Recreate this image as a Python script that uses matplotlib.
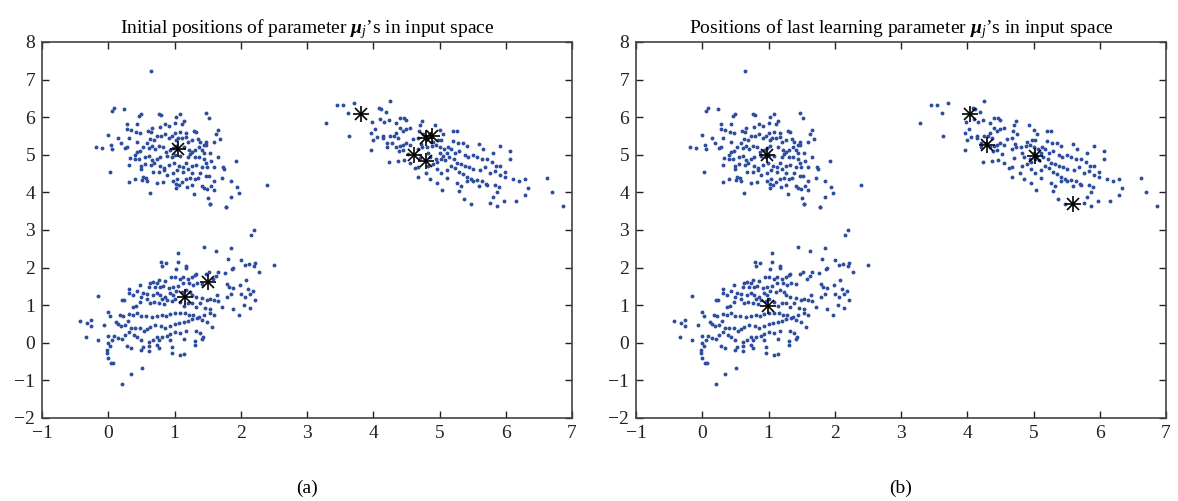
import numpy as np
import matplotlib.pyplot as plt

# input samples (same in both panels)
cluster_upper_left = np.array([
    (0.65, 7.24), (0.05, 6.16), (0.08, 6.24), (0.24, 6.22), (0.46, 6.03), (0.50, 6.08),
    (0.77, 6.09), (0.79, 6.07), (1.02, 6.01), (1.09, 6.09), (1.47, 6.12), (1.52, 5.97),
    (1.14, 5.89), (1.12, 5.81), (1.00, 5.84), (0.28, 5.81), (0.44, 5.83), (0.29, 5.68),
    (0.35, 5.66), (0.42, 5.61), (0.48, 5.57), (0.60, 5.64), (0.64, 5.61), (0.66, 5.72),
    (0.78, 5.73), (0.86, 5.81), (0.91, 5.76), (1.01, 5.59), (1.08, 5.61), (1.17, 5.57),
    (1.18, 5.48), (1.30, 5.63), (1.33, 5.61), (1.65, 5.66), (1.63, 5.56), (1.69, 5.43),
    (1.60, 5.33), (1.47, 5.35), (1.48, 5.25), (0.00, 5.52), (0.14, 5.45), (0.19, 5.31),
    (0.04, 5.25), (0.06, 5.16), (-0.09, 5.17), (-0.19, 5.20), (0.28, 5.22), (0.26, 5.17),
    (0.31, 5.46), (0.43, 5.35), (0.44, 5.08), (0.41, 4.99), (0.48, 5.11), (0.59, 5.32),
    (0.63, 5.43), (0.69, 5.39), (0.73, 5.51), (0.79, 5.50), (0.86, 5.55), (0.91, 5.46),
    (0.96, 5.50), (1.02, 5.39), (1.06, 5.46), (1.11, 5.46), (1.20, 5.35), (1.26, 5.39),
    (1.35, 5.43), (1.38, 5.34), (1.44, 5.26), (0.53, 5.20), (0.61, 5.18), (0.66, 5.23),
    (0.71, 5.16), (0.76, 5.23), (0.83, 5.20), (0.87, 5.08), (0.93, 5.13), (0.98, 5.17),
    (1.03, 5.23), (1.15, 5.20), (1.22, 5.13), (1.27, 5.08), (1.31, 5.14), (1.37, 5.20),
    (1.42, 5.13), (1.45, 5.06), (1.54, 5.04), (1.65, 4.95), (0.33, 4.91), (0.41, 4.88),
    (0.46, 4.88), (0.55, 4.95), (0.62, 4.97), (0.66, 4.86), (0.73, 4.88), (0.78, 4.95),
    (0.88, 4.97), (0.96, 4.95), (1.01, 4.99), (1.08, 4.98), (1.21, 4.95), (1.24, 5.02),
    (1.31, 4.95), (1.37, 4.93), (1.45, 4.88), (1.48, 4.77), (1.55, 4.84), (0.31, 4.72),
    (0.49, 4.70), (0.50, 4.63), (0.56, 4.75), (0.64, 4.73), (0.69, 4.77), (0.78, 4.70),
    (0.84, 4.64), (0.92, 4.73), (0.99, 4.77), (1.07, 4.70), (1.13, 4.68), (1.18, 4.77),
    (1.27, 4.70), (1.33, 4.73), (1.42, 4.67), (1.49, 4.68), (1.60, 4.67), (1.73, 4.67),
    (1.75, 4.61), (1.93, 4.83), (0.02, 4.55), (0.68, 4.53), (0.77, 4.55), (0.84, 4.60),
    (0.88, 4.46), (0.97, 4.52), (1.04, 4.60), (1.13, 4.55), (1.21, 4.61), (1.27, 4.51),
    (1.38, 4.52), (1.47, 4.44), (1.52, 4.44), (1.71, 4.37), (0.53, 4.42), (0.57, 4.37),
    (0.59, 4.31), (0.41, 4.35), (0.32, 4.28), (0.51, 4.33), (0.74, 4.26), (0.83, 4.28),
    (0.97, 4.31), (1.04, 4.35), (1.11, 4.28), (1.18, 4.36), (1.24, 4.39), (1.31, 4.35),
    (1.36, 4.37), (1.60, 4.29), (1.85, 4.29), (1.02, 4.22), (1.07, 4.20), (1.19, 4.15),
    (1.27, 4.21), (1.41, 4.17), (1.44, 4.11), (1.49, 4.08), (1.55, 4.17), (1.60, 4.06),
    (1.94, 4.15), (1.97, 3.98), (2.39, 4.21), (0.63, 3.99), (1.02, 4.11), (1.30, 3.95),
    (1.50, 3.84), (1.53, 3.69), (1.85, 3.89), (1.78, 3.60),
])

cluster_upper_right = np.array([
    (3.29, 5.84), (3.46, 6.32), (3.55, 6.32), (3.71, 6.39), (3.62, 6.12), (3.63, 5.51),
    (4.25, 6.44), (4.09, 6.25), (4.11, 6.23), (4.19, 6.14), (4.10, 5.95), (4.24, 5.93),
    (3.98, 5.88), (4.16, 5.86), (4.35, 5.84), (4.41, 5.97), (4.46, 5.99), (4.50, 5.93),
    (3.97, 5.57), (4.03, 5.68), (4.06, 5.48), (4.15, 5.50), (3.99, 5.39), (4.14, 5.45),
    (4.25, 5.50), (4.31, 5.51), (4.38, 5.46), (4.34, 5.57), (4.45, 5.64), (4.49, 5.69),
    (4.55, 5.70), (4.40, 5.70), (4.21, 5.32), (4.28, 5.32), (4.20, 5.20), (4.35, 5.20),
    (4.40, 5.23), (4.45, 5.25), (4.50, 5.31), (4.56, 5.27), (4.60, 5.41), (4.68, 5.46),
    (4.71, 5.78), (4.73, 5.91), (4.69, 5.63), (4.93, 5.79), (5.01, 5.66), (5.06, 5.55),
    (5.20, 5.62), (5.26, 5.64), (4.98, 5.39), (5.03, 5.39), (5.21, 5.36), (5.28, 5.32),
    (5.36, 5.31), (5.41, 5.23), (5.59, 5.29), (5.66, 5.15), (5.80, 5.06), (5.92, 5.23),
    (6.06, 5.11), (3.97, 5.13), (4.39, 5.11), (4.45, 5.13), (4.53, 5.02), (4.68, 5.15),
    (4.74, 5.20), (4.81, 5.20), (4.88, 5.23), (4.95, 5.26), (5.01, 5.22), (5.07, 5.15),
    (5.13, 5.20), (5.18, 5.15), (5.23, 5.06), (5.30, 5.11), (5.38, 4.99), (5.43, 4.95),
    (5.51, 4.99), (5.56, 4.95), (5.64, 4.88), (5.71, 4.88), (5.79, 4.82), (5.85, 4.70),
    (5.92, 4.70), (5.99, 4.55), (6.07, 4.90), (4.24, 4.81), (4.38, 4.84), (4.46, 4.86),
    (4.55, 4.79), (4.63, 4.64), (4.68, 4.67), (4.83, 4.70), (4.90, 4.75), (4.96, 4.82),
    (5.02, 4.88), (5.08, 4.86), (5.15, 4.93), (5.22, 4.88), (5.27, 4.79), (5.33, 4.76),
    (5.38, 4.70), (5.45, 4.67), (5.50, 4.61), (5.61, 4.60), (5.69, 4.67), (5.76, 4.52),
    (5.84, 4.58), (5.91, 4.46), (5.99, 4.42), (6.11, 4.35), (6.20, 4.30), (6.29, 4.35),
    (4.67, 4.41), (4.79, 4.52), (4.86, 4.36), (4.96, 4.61), (5.03, 4.52), (5.11, 4.60),
    (5.17, 4.70), (5.23, 4.64), (5.30, 4.55), (5.35, 4.49), (5.42, 4.42), (5.47, 4.36),
    (5.56, 4.33), (5.64, 4.29), (5.71, 4.20), (5.84, 4.20), (5.90, 4.14), (4.96, 4.24),
    (5.04, 4.06), (5.12, 4.37), (5.26, 4.24), (5.33, 4.17), (5.41, 4.31), (5.51, 4.29),
    (5.60, 4.17), (5.70, 4.22), (5.87, 4.00), (5.80, 3.89), (5.76, 3.71), (5.87, 3.64),
    (5.98, 3.78), (6.16, 3.76), (6.29, 3.94), (6.33, 4.13), (6.62, 4.39), (6.70, 4.01),
    (6.87, 3.65), (5.37, 3.82), (5.47, 3.69), (5.29, 4.05), (4.72, 5.30), (4.82, 5.05),
    (4.70, 4.92), (4.85, 4.95), (4.75, 5.55), (4.90, 5.35), (5.00, 5.05), (4.95, 4.90),
    (5.05, 4.98), (5.12, 5.05),
])

cluster_lower_left = np.array([
    (1.54, 3.69), (1.78, 3.60), (2.20, 3.00), (2.15, 2.87), (1.45, 2.56), (1.62, 2.44),
    (1.86, 2.51), (1.06, 2.38), (0.80, 2.16), (0.87, 2.13), (1.06, 2.16), (1.17, 2.05),
    (1.18, 2.00), (1.03, 1.95), (0.81, 2.04), (1.80, 2.23), (2.00, 2.19), (2.06, 2.08),
    (2.12, 2.09), (2.21, 2.13), (2.20, 2.04), (2.50, 2.07), (2.27, 1.89), (1.89, 1.98),
    (1.87, 1.95), (1.76, 1.86), (1.65, 1.87), (1.47, 1.83), (1.52, 1.89), (1.58, 1.71),
    (1.63, 1.78), (1.33, 1.83), (1.31, 1.80), (1.26, 1.76), (1.21, 1.71), (1.13, 1.74),
    (1.08, 1.71), (1.01, 1.74), (0.95, 1.74), (0.86, 1.65), (0.77, 1.67), (0.73, 1.60),
    (0.68, 1.63), (0.63, 1.58), (0.48, 1.55), (0.62, 1.49), (0.71, 1.48), (0.78, 1.48),
    (0.83, 1.51), (0.91, 1.45), (0.98, 1.48), (1.06, 1.51), (1.13, 1.58), (1.22, 1.60),
    (1.28, 1.54), (1.34, 1.58), (1.41, 1.56), (1.79, 1.56), (1.83, 1.48), (1.89, 1.45),
    (1.99, 1.54), (2.08, 1.67), (2.11, 1.42), (2.18, 1.39), (2.14, 1.29), (2.06, 1.23),
    (2.01, 1.30), (1.86, 1.30), (1.79, 1.23), (1.64, 1.27), (1.66, 1.12), (1.59, 1.14),
    (1.53, 1.16), (1.49, 1.14), (1.41, 1.18), (1.33, 1.21), (1.27, 1.27), (1.24, 1.36),
    (1.18, 1.40), (1.11, 1.36), (1.03, 1.39), (0.98, 1.27), (0.93, 1.32), (0.86, 1.23),
    (0.78, 1.27), (0.73, 1.33), (0.68, 1.27), (0.59, 1.29), (0.53, 1.32), (0.49, 1.23),
    (0.44, 1.38), (0.38, 1.27), (0.32, 1.42), (0.32, 1.33), (0.24, 1.14), (0.20, 1.14),
    (0.37, 0.96), (0.42, 0.98), (0.48, 1.09), (0.58, 1.16), (0.63, 1.05), (0.69, 1.09),
    (0.76, 1.05), (0.81, 1.16), (0.84, 1.03), (0.89, 1.14), (0.96, 1.12), (1.01, 1.16),
    (1.08, 1.09), (1.14, 0.98), (1.21, 1.05), (1.27, 1.07), (1.33, 0.96), (1.38, 1.05),
    (1.46, 0.92), (1.54, 0.89), (1.71, 0.96), (1.89, 0.90), (2.05, 1.00), (2.14, 0.92),
    (2.22, 1.14), (1.97, 0.73), (1.59, 0.73), (1.53, 0.78), (1.45, 0.74), (1.37, 0.68),
    (1.28, 0.74), (1.22, 0.74), (1.16, 0.78), (1.08, 0.80), (1.01, 0.80), (0.93, 0.77),
    (0.87, 0.71), (0.81, 0.74), (0.73, 0.71), (0.66, 0.68), (0.57, 0.70), (0.50, 0.71),
    (0.44, 0.80), (0.38, 0.74), (0.32, 0.77), (0.23, 0.70), (0.18, 0.74), (0.12, 0.54),
    (0.15, 0.50), (0.19, 0.45), (0.30, 0.59), (0.25, 0.47), (0.34, 0.39), (0.40, 0.39),
    (0.48, 0.39), (0.54, 0.32), (0.59, 0.36), (0.63, 0.43), (0.71, 0.47), (0.79, 0.45),
    (0.86, 0.39), (0.93, 0.45), (1.01, 0.50), (1.07, 0.52), (1.14, 0.56), (1.21, 0.59),
    (1.27, 0.62), (1.34, 0.65), (1.41, 0.61), (1.49, 0.54), (1.57, 0.41), (1.33, 0.32),
    (1.38, 0.27), (1.17, 0.32), (1.14, 0.09), (1.08, 0.25), (1.01, 0.30), (0.93, 0.23),
    (0.88, 0.18), (0.81, 0.16), (0.73, 0.15), (0.67, 0.07), (0.77, 0.07), (0.61, 0.03),
    (0.50, 0.07), (0.44, 0.16), (0.39, 0.21), (0.32, 0.30), (0.25, 0.21), (0.20, 0.09),
    (0.15, 0.12), (0.08, 0.18), (-0.01, 0.18), (-0.07, 0.47), (-0.15, 0.07), (-0.26, 0.44),
    (-0.26, 0.60), (-0.32, 0.52), (-0.43, 0.58), (-0.34, 0.16), (-0.01, 0.83), (0.03, 0.70),
    (-0.15, 1.25), (0.05, 0.07), (0.00, 0.00), (0.02, -0.09), (-0.02, -0.19), (-0.02, -0.26),
    (0.00, -0.40), (0.04, -0.55), (0.07, -0.53), (0.28, -0.09), (0.35, -0.15), (0.52, -0.10),
    (0.50, -0.19), (0.61, -0.08), (0.62, -0.21), (0.73, -0.06), (0.77, -0.15), (0.96, -0.10),
    (0.93, 0.07), (0.96, -0.28), (1.09, -0.32), (1.14, -0.30), (1.31, -0.06), (1.31, 0.06),
    (1.42, 0.09), (1.43, 0.15), (0.51, -0.68), (0.34, -0.84), (0.20, -1.09),
])

# parameter mu_j positions
mu_initial = np.array([
    (1.06, 5.15), (3.82, 6.08), (4.79, 5.44), (4.89, 5.50), (4.62, 4.99), (4.79, 4.84),
    (1.16, 1.23), (1.50, 1.63),
])
mu_learned = np.array([
    (0.98, 4.99), (4.04, 6.09), (4.30, 5.27), (5.03, 4.96), (5.60, 3.68), (0.99, 0.97),
])

titles = [r"Initial positions of parameter $\mathbf{\mu}_j$’s in input space",
          r"Positions of last learning parameter $\mathbf{\mu}_j$’s in input space"]
captions = ["(a)", "(b)"]

plt.rcParams["font.family"] = ["Liberation Serif", "DejaVu Serif"]
plt.rcParams["mathtext.fontset"] = "custom"
plt.rcParams["mathtext.rm"] = "Liberation Serif"
plt.rcParams["mathtext.it"] = "Liberation Serif:italic"
plt.rcParams["mathtext.bf"] = "Liberation Serif:bold:italic"

samples = np.vstack([cluster_upper_left, cluster_upper_right, cluster_lower_left])

fig = plt.figure(figsize=(11.78, 5.01), dpi=100)
lefts = [42 / 1178, 636 / 1178]
for i, (mu, title, cap) in enumerate(zip([mu_initial, mu_learned], titles, captions)):
    ax = fig.add_axes([lefts[i], 83 / 501, 530 / 1178, 376 / 501])
    ax.plot(samples[:, 0], samples[:, 1], ".", color="#2f4f9e", ms=3.6, zorder=2)
    ax.plot(mu[:, 0], mu[:, 1], "+", color="black", ms=11.5, mew=1.2, zorder=3)
    ax.plot(mu[:, 0], mu[:, 1], "x", color="black", ms=8, mew=1.2, zorder=3)
    ax.set_xlim(-1, 7)
    ax.set_ylim(-2, 8)
    ax.set_xticks(range(-1, 8))
    ax.set_yticks(range(-2, 9))
    ax.tick_params(direction="in", length=5, width=1, top=True, right=True,
                   labelsize=14, colors="#222222", pad=5)
    for sp in ax.spines.values():
        sp.set_color("#444444")
        sp.set_linewidth(1.2)
    ax.set_title(title, fontsize=14, pad=6)
    fig.text(lefts[i] + 265 / 1178, 0.026, cap, ha="center", va="center", fontsize=14)

fig.savefig("out.png", dpi=100)
